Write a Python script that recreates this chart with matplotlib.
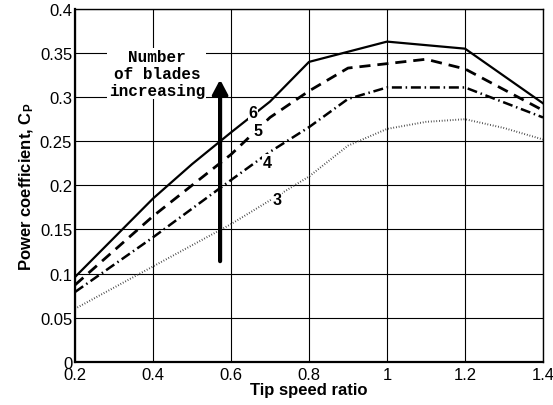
import matplotlib
matplotlib.use('Agg')
import matplotlib.pyplot as plt

plt.rcParams['font.family'] = 'Liberation Sans'
plt.rcParams['mathtext.fontset'] = 'custom'
plt.rcParams['mathtext.rm'] = 'Liberation Sans'
plt.rcParams['mathtext.bf'] = 'Liberation Sans:bold'

# Tip speed ratio values and power coefficient for each blade count
tsr_6 = [0.2, 0.4, 0.5, 0.6, 0.7, 0.8, 1.0, 1.2, 1.4]
cp_6 = [0.096, 0.185, 0.224, 0.260, 0.295, 0.340, 0.363, 0.355, 0.293]

tsr_5 = [0.2, 0.4, 0.6, 0.7, 0.8, 0.9, 1.0, 1.1, 1.2, 1.4]
cp_5 = [0.087, 0.165, 0.235, 0.277, 0.307, 0.333, 0.338, 0.343, 0.332, 0.285]

tsr_4 = [0.2, 0.4, 0.6, 0.7, 0.8, 0.9, 1.0, 1.2, 1.4]
cp_4 = [0.079, 0.141, 0.206, 0.238, 0.266, 0.298, 0.311, 0.311, 0.277]

tsr_3 = [0.2, 0.4, 0.6, 0.8, 0.9, 1.0, 1.1, 1.2, 1.3, 1.4]
cp_3 = [0.060, 0.108, 0.156, 0.210, 0.245, 0.264, 0.272, 0.275, 0.265, 0.252]

fig = plt.figure(figsize=(5.53, 4.06), dpi=100)
ax = fig.add_axes([0.1356, 0.1067, 0.8464, 0.8687])

ax.plot(tsr_6, cp_6, color='black', lw=1.6, ls='-')
ax.plot(tsr_5, cp_5, color='black', lw=2.0, ls=(0, (4, 2.5)))
ax.plot(tsr_4, cp_4, color='black', lw=1.8, ls=(0, (4, 1.5, 0.6, 1.5)))
ax.plot(tsr_3, cp_3, color='#333333', lw=1.4, ls=(0, (0.4, 1.0)))

# curve labels
lab_kw = dict(fontsize=11.5, fontweight='bold', ha='center', va='center',
              bbox=dict(facecolor='white', edgecolor='none', pad=0.5))
ax.text(0.656, 0.283, '6', **lab_kw)
ax.text(0.669, 0.262, '5', **lab_kw)
ax.text(0.692, 0.226, '4', **lab_kw)
ax.text(0.718, 0.184, '3', **lab_kw)

# arrow + note
ax.annotate('', xy=(0.572, 0.320), xytext=(0.572, 0.114),
            arrowprops=dict(arrowstyle='-|>,head_width=0.45,head_length=0.85',
                            lw=3.0, color='black', shrinkA=0, shrinkB=0))
ax.text(0.41, 0.327, 'Number\nof blades\nincreasing', family='Liberation Mono',
        fontweight='bold', fontsize=11.5, ha='center', va='center',
        linespacing=1.15, zorder=5,
        bbox=dict(facecolor='white', edgecolor='none', pad=1))

ax.set_xlim(0.2, 1.4)
ax.set_ylim(0, 0.4)
ax.set_xticks([0.2, 0.4, 0.6, 0.8, 1.0, 1.2, 1.4])
ax.set_xticklabels(['0.2', '0.4', '0.6', '0.8', '1', '1.2', '1.4'])
ax.set_yticks([0, 0.05, 0.1, 0.15, 0.2, 0.25, 0.3, 0.35, 0.4])
ax.set_yticklabels(['0', '0.05', '0.1', '0.15', '0.2', '0.25', '0.3', '0.35', '0.4'])
ax.tick_params(direction='in', length=0, labelsize=12)
ax.tick_params(axis='x', pad=4)
ax.tick_params(axis='y', pad=2)
ax.grid(True, color='black', lw=0.8)
ax.set_axisbelow(True)
for s in ax.spines.values():
    s.set_linewidth(1.0)
ax.spines['bottom'].set_linewidth(1.6)
ax.spines['left'].set_linewidth(1.6)

ax.set_xlabel('Tip speed ratio', fontsize=12, fontweight='bold', labelpad=0)
ax.set_ylabel(r'Power coefficient, $\mathbf{C_P}$', fontsize=12,
              fontweight='bold', labelpad=3)

fig.savefig('out.png', dpi=100)
